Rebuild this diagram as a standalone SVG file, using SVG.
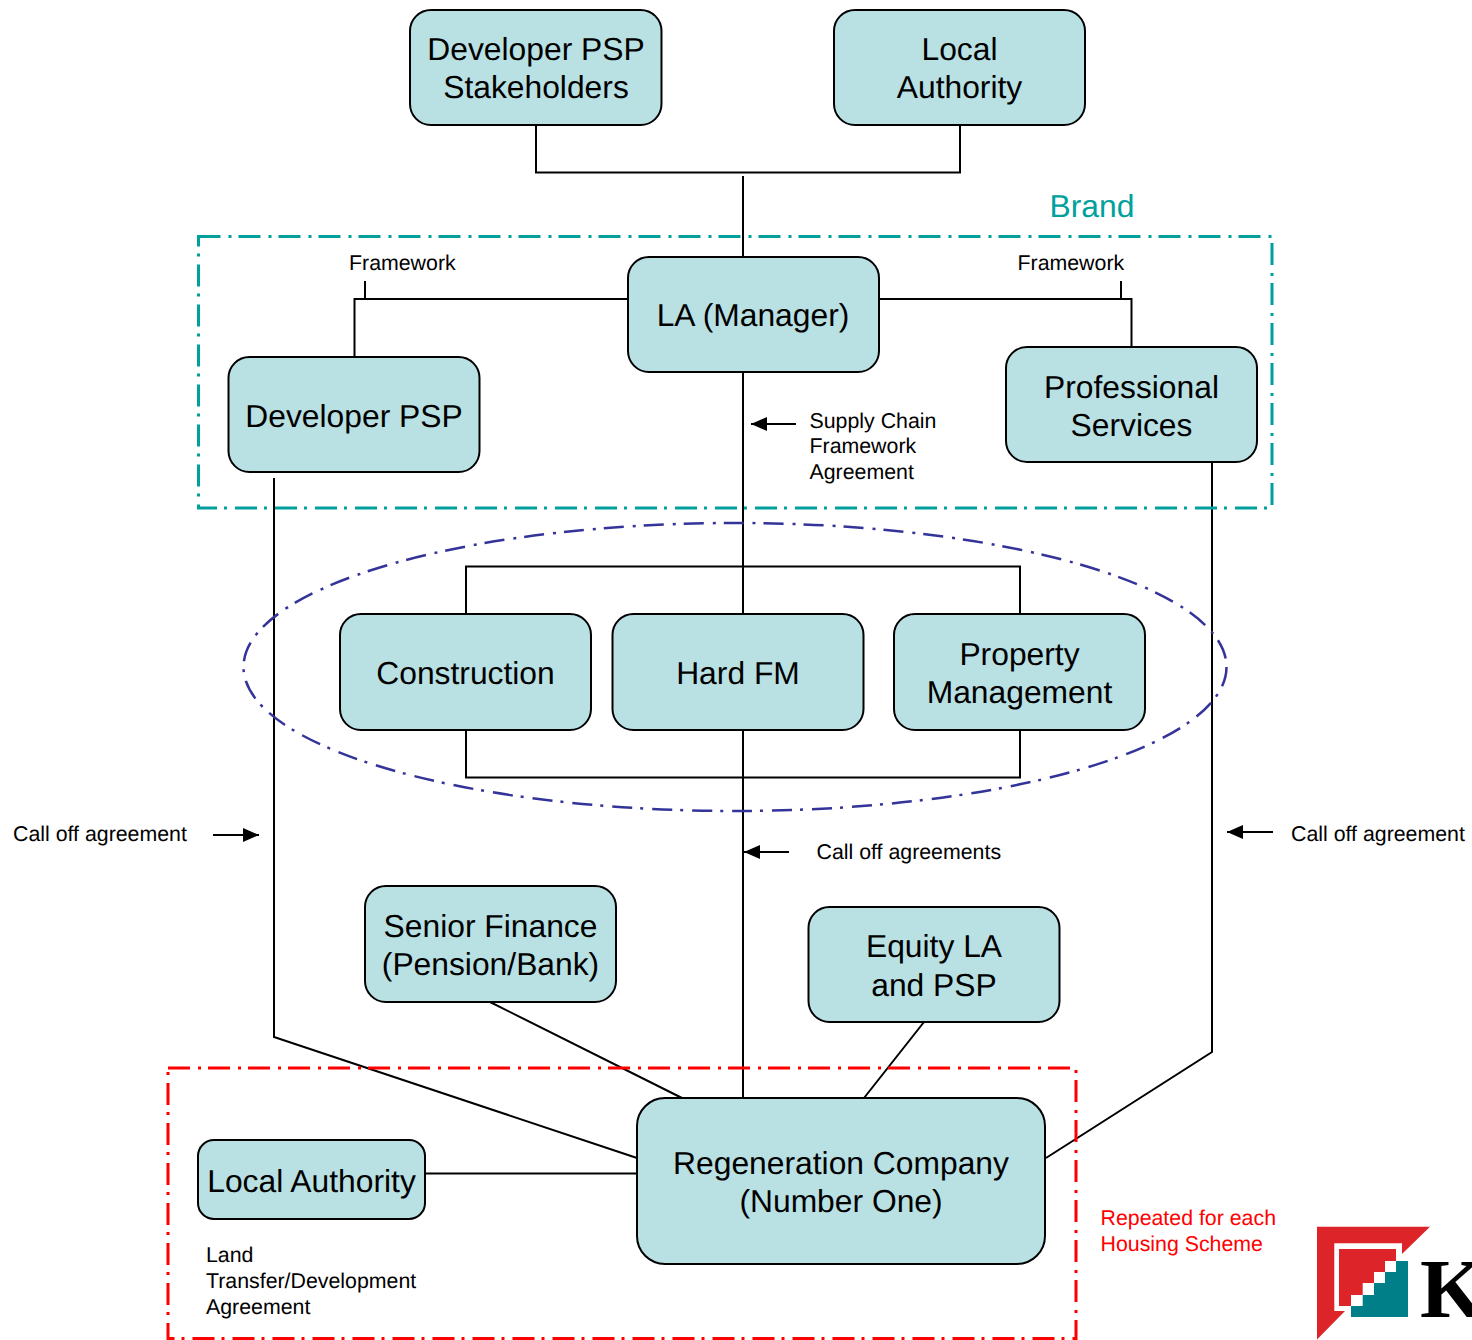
<svg xmlns="http://www.w3.org/2000/svg" width="1472" height="1340" viewBox="0 0 1472 1340">
<style>
text{font-family:"Liberation Sans",Arial,sans-serif;fill:#000;text-rendering:geometricPrecision}
.n rect{fill:#b9e0e3;stroke:#000;stroke-width:2}
.n text{font-size:31.8px;text-anchor:middle}
.s{font-size:21.33px}
.c{fill:none;stroke:#000;stroke-width:2}
.d{fill:none;stroke-width:3;stroke-dasharray:22 8 3 7}
</style>
<defs><marker id="a" markerWidth="16" markerHeight="14" refX="16" refY="7" orient="auto" markerUnits="userSpaceOnUse"><path d="M0 0L16 7L0 14Z" fill="#000"/></marker></defs>
<g id="connectors">
<path class="c" d="M536 125V172.500H960V125M743 176V257M628 299H354.500V357M365 281V298M879 299H1131.500V347M1121 281V298M743 373V614M466 614V566.500H1020V614M466 730V777.500H1020V730M743 730V1098M274 478V1037L637 1158M490 1002L682 1098M924 1022L864 1098M426 1173.500H637M1212 463V1052L1046 1158"/>
<path class="c" d="M796 424H751" marker-end="url(#a)"/>
<path class="c" d="M789 852H744" marker-end="url(#a)"/>
<path class="c" d="M213 835H259" marker-end="url(#a)"/>
<path class="c" d="M1273 832H1227" marker-end="url(#a)"/>
</g>
<g id="regions">
<rect id="brand-region" class="d" x="198.500" y="236.500" width="1073.500" height="271.500" stroke="#00a09d"/>
<ellipse id="delivery-ellipse" class="d" cx="735" cy="667" rx="491.500" ry="144" stroke="#333399" style="stroke-width:2.500;stroke-dasharray:20 9 3 8"/>
<rect id="scheme-region" class="d" x="168" y="1068" width="908" height="270.500" stroke="#f00"/>
</g>
<g id="developer-psp-stakeholders" class="n"><rect x="410" y="10" width="251.500" height="115" rx="21"/><text x="536" y="60">Developer PSP</text><text x="536" y="98">Stakeholders</text></g>
<g id="local-authority-top" class="n"><rect x="834" y="10" width="251" height="115" rx="21"/><text x="959.500" y="60">Local</text><text x="959.500" y="98">Authority</text></g>
<g id="la-manager" class="n"><rect x="628" y="257" width="251" height="115" rx="21"/><text x="753" y="326">LA (Manager)</text></g>
<g id="developer-psp" class="n"><rect x="228.500" y="357" width="251" height="115" rx="21"/><text x="354" y="427">Developer PSP</text></g>
<g id="professional-services" class="n"><rect x="1006" y="347" width="251" height="115" rx="21"/><text x="1131.500" y="398">Professional</text><text x="1131.500" y="436">Services</text></g>
<g id="construction" class="n"><rect x="340" y="614" width="251" height="116" rx="21"/><text x="465.500" y="684">Construction</text></g>
<g id="hard-fm" class="n"><rect x="612.500" y="614" width="251" height="116" rx="21"/><text x="738" y="684">Hard FM</text></g>
<g id="property-management" class="n"><rect x="894" y="614" width="251" height="116" rx="21"/><text x="1019.500" y="665">Property</text><text x="1019.500" y="703">Management</text></g>
<g id="senior-finance" class="n"><rect x="365" y="886" width="251" height="116" rx="21"/><text x="490.500" y="937">Senior Finance</text><text x="490.500" y="975">(Pension/Bank)</text></g>
<g id="equity-la-psp" class="n"><rect x="808.500" y="907" width="251" height="115" rx="21"/><text x="934" y="957">Equity LA</text><text x="934" y="996">and PSP</text></g>
<g id="local-authority" class="n"><rect x="198" y="1140" width="227" height="79" rx="16"/><text x="311.500" y="1192">Local Authority</text></g>
<g id="regeneration-company" class="n"><rect x="637" y="1098" width="408" height="166" rx="28"/><text x="841" y="1174">Regeneration Company</text><text x="841" y="1212">(Number One)</text></g>
<g id="labels">
<text x="1049.500" y="217" style="font-size:31.800px;fill:#00a09d">Brand</text>
<text class="s" x="349" y="270">Framework</text>
<text class="s" x="1017.500" y="270">Framework</text>
<text class="s" x="809.500" y="428">Supply Chain</text>
<text class="s" x="809.500" y="452.500">Framework</text>
<text class="s" x="809.500" y="479">Agreement</text>
<text class="s" x="13" y="841">Call off agreement</text>
<text class="s" x="1291" y="841">Call off agreement</text>
<text class="s" x="816.500" y="859">Call off agreements</text>
<text class="s" x="206" y="1261.500">Land</text>
<text class="s" x="206" y="1287.500">Transfer/Development</text>
<text class="s" x="206" y="1313.500">Agreement</text>
<text class="s" x="1100.500" y="1225" style="fill:#f00">Repeated for each</text>
<text class="s" x="1100.500" y="1251" style="fill:#f00">Housing Scheme</text>
</g>
<g id="logo">
<path d="M1317 1226.700H1430L1402 1254V1243.300H1334.300V1311H1345L1317 1339.500Z" fill="#dd2529"/>
<path d="M1339 1249H1396V1261H1385V1272H1374V1283H1362.700V1295H1351V1306H1339Z" fill="#dd2529"/>
<path d="M1396 1261H1408V1317H1351V1306H1362.700V1295H1374V1283H1385V1272H1396Z" fill="#007f88"/>
<text x="1420" y="1317" style="font-family:'Liberation Serif',serif;font-weight:bold;font-size:84px">K</text>
</g>
</svg>
